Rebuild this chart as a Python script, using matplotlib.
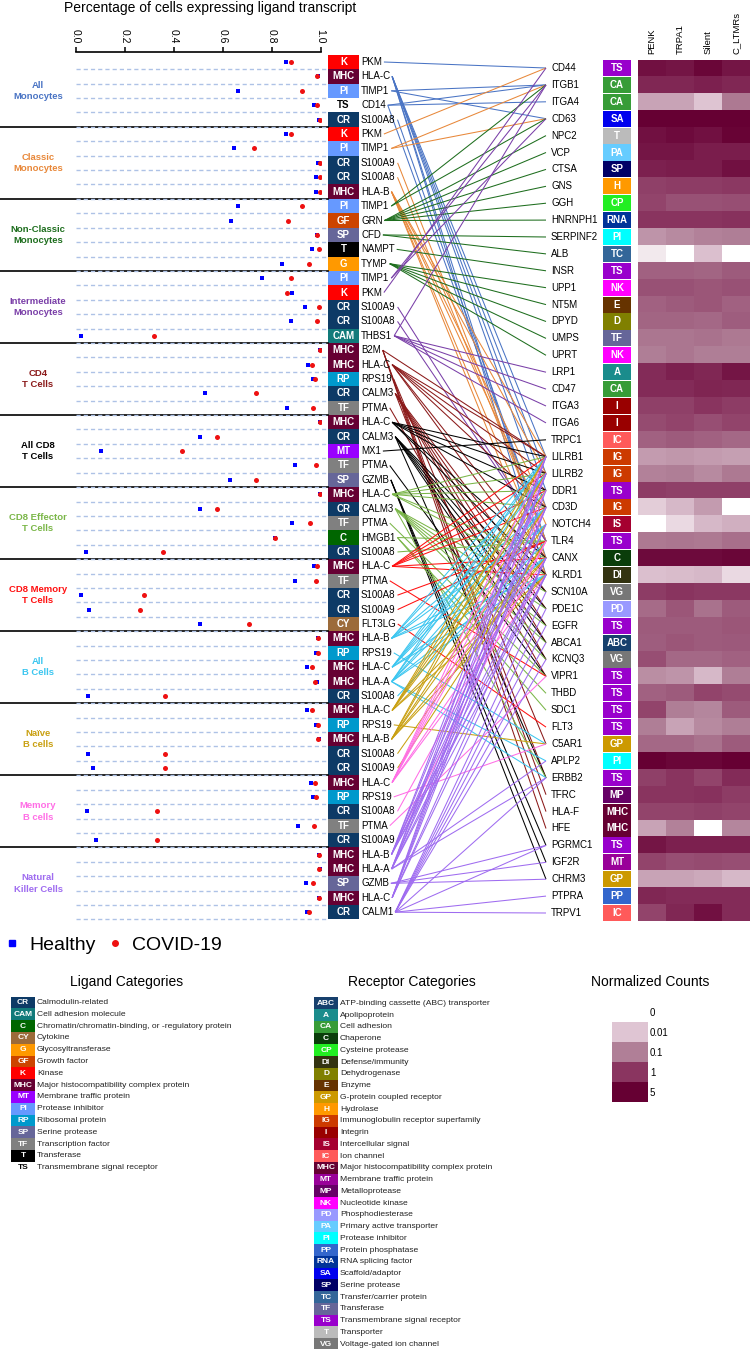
import matplotlib
matplotlib.use('Agg')
import matplotlib.pyplot as plt
import numpy as np
from matplotlib.colors import LinearSegmentedColormap, LogNorm
from matplotlib.patches import Rectangle
from matplotlib.lines import Line2D

plt.rcParams['font.family'] = ['Liberation Sans', 'DejaVu Sans']

# ---------------- data ----------------
groups = ['All\nMonocytes', 'Classic\nMonocytes', 'Non-Classic\nMonocytes', 'Intermediate\nMonocytes',
          'CD4\nT Cells', 'All CD8\nT Cells', 'CD8 Effector\nT Cells', 'CD8 Memory\nT Cells',
          'All\nB Cells', 'Naïve\nB cells', 'Memory\nB cells', 'Natural\nKiller Cells']
group_colors = ['#4a74c4', '#e8883a', '#1e6e1e', '#7a3fa8', '#8b1a1a', '#000000',
                '#7ab648', '#ff1010', '#3cc6f0', '#c9a012', '#ff6ee6', '#9f6cf0']

lig_genes = ['PKM', 'HLA-C', 'TIMP1', 'CD14', 'S100A8',
             'PKM', 'TIMP1', 'S100A9', 'S100A8', 'HLA-B',
             'TIMP1', 'GRN', 'CFD', 'NAMPT', 'TYMP',
             'TIMP1', 'PKM', 'S100A9', 'S100A8', 'THBS1',
             'B2M', 'HLA-C', 'RPS19', 'CALM3', 'PTMA',
             'HLA-C', 'CALM3', 'MX1', 'PTMA', 'GZMB',
             'HLA-C', 'CALM3', 'PTMA', 'HMGB1', 'S100A8',
             'HLA-C', 'PTMA', 'S100A8', 'S100A9', 'FLT3LG',
             'HLA-B', 'RPS19', 'HLA-C', 'HLA-A', 'S100A8',
             'HLA-C', 'RPS19', 'HLA-B', 'S100A8', 'S100A9',
             'HLA-C', 'RPS19', 'S100A8', 'PTMA', 'S100A9',
             'HLA-B', 'HLA-A', 'GZMB', 'HLA-C', 'CALM1']
lig_cats = ['K', 'MHC', 'PI', 'TS', 'CR',
            'K', 'PI', 'CR', 'CR', 'MHC',
            'PI', 'GF', 'SP', 'T', 'G',
            'PI', 'K', 'CR', 'CR', 'CAM',
            'MHC', 'MHC', 'RP', 'CR', 'TF',
            'MHC', 'CR', 'MT', 'TF', 'SP',
            'MHC', 'CR', 'TF', 'C', 'CR',
            'MHC', 'TF', 'CR', 'CR', 'CY',
            'MHC', 'RP', 'MHC', 'MHC', 'CR',
            'MHC', 'RP', 'MHC', 'CR', 'CR',
            'MHC', 'RP', 'CR', 'TF', 'CR',
            'MHC', 'MHC', 'SP', 'MHC', 'CR']

healthy = [0.858, 0.99, 0.663, 0.973, 0.995,
           0.858, 0.647, 0.99, 0.979, 0.979,
           0.663, 0.635, 0.983, 0.964, 0.842,
           0.760, 0.883, 0.937, 0.880, 0.020,
           0.997, 0.949, 0.970, 0.528, 0.864,
           0.998, 0.507, 0.103, 0.895, 0.631,
           0.997, 0.507, 0.884, 0.813, 0.041,
           0.973, 0.895, 0.020, 0.052, 0.507,
           0.987, 0.981, 0.944, 0.985, 0.049,
           0.944, 0.981, 0.995, 0.049, 0.068,
           0.962, 0.967, 0.044, 0.909, 0.080,
           0.993, 0.999, 0.940, 0.995, 0.942]
covid = [0.879, 0.985, 0.923, 0.983, 0.998,
         0.879, 0.729, 0.997, 0.997, 0.997,
         0.925, 0.865, 0.985, 0.994, 0.954,
         0.877, 0.861, 0.992, 0.986, 0.318,
         0.997, 0.964, 0.977, 0.736, 0.967,
         0.997, 0.578, 0.435, 0.981, 0.737,
         0.997, 0.578, 0.956, 0.813, 0.354,
         0.986, 0.979, 0.277, 0.262, 0.707,
         0.991, 0.987, 0.963, 0.975, 0.365,
         0.963, 0.988, 0.990, 0.365, 0.364,
         0.975, 0.981, 0.332, 0.971, 0.331,
         0.993, 0.993, 0.970, 0.995, 0.954]

HC = ['LILRB1', 'LILRB2', 'DDR1', 'CD3D', 'CANX', 'KLRD1']
HB = ['LILRB1', 'LILRB2', 'CD3D', 'NOTCH4', 'CANX', 'KLRD1']
HA = ['LILRB1', 'LILRB2', 'CD3D', 'NOTCH4', 'CANX', 'KLRD1', 'APLP2', 'ERBB2']
CAL3 = ['SCN10A', 'PDE1C', 'EGFR', 'ABCA1', 'KCNQ3', 'ERBB2']
lig_targets = [['CD44'], HC, ['ITGB1', 'CD63'], ['ITGB1', 'ITGA4', 'TLR4'], ['TLR4'],
               ['CD44'], ['ITGB1', 'CD63'], ['TLR4'], ['TLR4'], HB,
               ['ITGB1', 'CD63'], ['NPC2', 'VCP', 'CTSA', 'GNS', 'GGH', 'HNRNPH1'], ['SERPINF2', 'ALB'],
               ['INSR'], ['UPP1', 'NT5M', 'DPYD', 'UMPS', 'UPRT'],
               ['ITGB1', 'CD63'], ['CD44'], ['TLR4'], ['TLR4'], ['ITGB1', 'LRP1', 'CD47', 'ITGA3', 'ITGA6'],
               ['LILRB1', 'TFRC', 'HLA-F', 'HFE'], HC, ['C5AR1'], CAL3, ['VIPR1'],
               HC, CAL3, ['TRPC1'], ['VIPR1'], ['PGRMC1', 'IGF2R', 'CHRM3'],
               HC, CAL3, ['VIPR1'], ['TLR4', 'THBD', 'SDC1'], ['TLR4'],
               HC, ['VIPR1'], ['TLR4'], ['TLR4'], ['FLT3'],
               HB, ['C5AR1'], HC, HA, ['TLR4'],
               HC, ['C5AR1'], HB, ['TLR4'], ['TLR4'],
               HC, ['C5AR1'], ['TLR4'], ['VIPR1'], ['TLR4'],
               HB, HA, ['PGRMC1', 'IGF2R', 'CHRM3'], HC,
               ['SCN10A', 'PDE1C', 'EGFR', 'ABCA1', 'KCNQ3', 'ERBB2', 'PGRMC1', 'PTPRA', 'TRPV1']]

receptors = ['CD44', 'ITGB1', 'ITGA4', 'CD63', 'NPC2', 'VCP', 'CTSA', 'GNS', 'GGH', 'HNRNPH1',
             'SERPINF2', 'ALB', 'INSR', 'UPP1', 'NT5M', 'DPYD', 'UMPS', 'UPRT', 'LRP1', 'CD47',
             'ITGA3', 'ITGA6', 'TRPC1', 'LILRB1', 'LILRB2', 'DDR1', 'CD3D', 'NOTCH4', 'TLR4', 'CANX',
             'KLRD1', 'SCN10A', 'PDE1C', 'EGFR', 'ABCA1', 'KCNQ3', 'VIPR1', 'THBD', 'SDC1', 'FLT3',
             'C5AR1', 'APLP2', 'ERBB2', 'TFRC', 'HLA-F', 'HFE', 'PGRMC1', 'IGF2R', 'CHRM3', 'PTPRA', 'TRPV1']
rec_cats = ['TS', 'CA', 'CA', 'SA', 'T', 'PA', 'SP', 'H', 'CP', 'RNA',
            'PI', 'TC', 'TS', 'NK', 'E', 'D', 'TF', 'NK', 'A', 'CA',
            'I', 'I', 'IC', 'IG', 'IG', 'TS', 'IG', 'IS', 'TS', 'C',
            'DI', 'VG', 'PD', 'TS', 'ABC', 'VG', 'TS', 'TS', 'TS', 'TS',
            'GP', 'PI', 'TS', 'MP', 'MHC', 'MHC', 'TS', 'MT', 'GP', 'PP', 'IC']

heat_cols = ['PENK', 'TRPA1', 'Silent', 'C_LTMRs']
heat_vals = [[3, 2.5, 4, 2.5], [1.5, 1.5, 1.8, 1.5], [0.03, 0.03, 0.01, 0.12], [5, 5, 5, 5],
             [3, 3.5, 3, 4.5], [2.5, 2.5, 2, 2], [1.8, 2, 2, 3], [0.7, 0.8, 0.8, 0.9],
             [0.6, 0.4, 0.4, 0.45], [1, 1, 1, 1.1], [0.05, 0.07, 0.09, 0.1], [0.002, 0, 0.012, 0],
             [0.25, 0.25, 0.22, 0.3], [0.4, 0.4, 0.35, 0.4], [0.25, 0.3, 0.35, 0.25], [0.22, 0.22, 0.2, 0.28],
             [0.13, 0.13, 0.15, 0.12], [0.1, 0.13, 0.1, 0.1], [1.3, 1.8, 1.5, 2.5], [1.3, 1.3, 1.6, 1.5],
             [0.7, 0.7, 1.0, 0.8], [0.5, 0.6, 0.45, 0.6], [0.25, 0.3, 0.25, 0.2], [0.04, 0.045, 0.04, 0.035],
             [0.09, 0.1, 0.07, 0.12], [0.8, 0.7, 0.7, 0.7], [0.007, 0.015, 0.04, 0], [0, 0.004, 0.015, 0.02],
             [0.12, 0.13, 0.12, 0.16], [3.5, 3.5, 3.5, 4], [0.012, 0.013, 0.015, 0.004], [0.8, 1, 0.9, 0.9],
             [0.18, 0.35, 0.15, 0.3], [0.3, 0.3, 0.3, 0.35], [0.28, 0.35, 0.3, 0.32], [0.45, 0.2, 0.2, 0.25],
             [0.06, 0.05, 0.015, 0.1], [0.25, 0.3, 0.6, 0.5], [0.6, 0.1, 0.08, 0.3], [0.1, 0.03, 0.07, 0.1],
             [0.2, 0.2, 0.15, 0.3], [5, 4, 4, 5], [0.7, 1, 0.6, 1.3], [1, 1, 1.1, 0.8],
             [0.6, 0.6, 0.7, 0.6], [0.03, 0.09, 0, 0.08], [2.5, 1.8, 1.8, 1.8], [0.6, 0.45, 0.5, 0.45],
             [0.03, 0.03, 0.025, 0.015], [1.5, 1.3, 1.3, 1.3], [0.6, 1.5, 3, 1.3]]

lig_legend_codes = ['CR', 'CAM', 'C', 'CY', 'G', 'GF', 'K', 'MHC', 'MT', 'PI', 'RP', 'SP', 'TF', 'T', 'TS']
lig_legend_names = ['Calmodulin-related', 'Cell adhesion molecule',
                    'Chromatin/chromatin-binding, or -regulatory protein', 'Cytokine', 'Glycosyltransferase',
                    'Growth factor', 'Kinase', 'Major histocompatibility complex protein',
                    'Membrane traffic protein', 'Protease inhibitor', 'Ribosomal protein', 'Serine protease',
                    'Transcription factor', 'Transferase', 'Transmembrane signal receptor']
lig_colors = {'CR': '#0d3a66', 'CAM': '#117a7a', 'C': '#006600', 'CY': '#9c6b3a', 'G': '#ff9900',
              'GF': '#cc4400', 'K': '#ff0000', 'MHC': '#660033', 'MT': '#9900ff', 'PI': '#6699ff',
              'RP': '#0099cc', 'SP': '#666699', 'TF': '#808080', 'T': '#000000', 'TS': None}

rec_legend_codes = ['ABC', 'A', 'CA', 'C', 'CP', 'DI', 'D', 'E', 'GP', 'H', 'IG', 'I', 'IS', 'IC', 'MHC',
                    'MT', 'MP', 'NK', 'PD', 'PA', 'PI', 'PP', 'RNA', 'SA', 'SP', 'TC', 'TF', 'TS', 'T', 'VG']
rec_legend_names = ['ATP-binding cassette (ABC) transporter', 'Apolipoprotein', 'Cell adhesion', 'Chaperone',
                    'Cysteine protease', 'Defense/immunity', 'Dehydrogenase', 'Enzyme',
                    'G-protein coupled receptor', 'Hydrolase', 'Immunoglobulin receptor superfamily',
                    'Integrin', 'Intercellular signal', 'Ion channel', 'Major histocompatibility complex protein',
                    'Membrane traffic protein', 'Metalloprotease', 'Nucleotide kinase', 'Phosphodiesterase',
                    'Primary active transporter', 'Protease inhibitor', 'Protein phosphatase',
                    'RNA splicing factor', 'Scaffold/adaptor', 'Serine protease', 'Transfer/carrier protein',
                    'Transferase', 'Transmembrane signal receptor', 'Transporter', 'Voltage-gated ion channel']
rec_colors = {'ABC': '#17406d', 'A': '#1a8c8c', 'CA': '#379c37', 'C': '#0a3d0a', 'CP': '#22ee22',
              'DI': '#333311', 'D': '#808000', 'E': '#663300', 'GP': '#cc9900', 'H': '#ff9900',
              'IG': '#cc3a00', 'I': '#990000', 'IS': '#a50030', 'IC': '#ff5a5a', 'MHC': '#660033',
              'MT': '#990099', 'MP': '#660066', 'NK': '#ff00ff', 'PD': '#9999ff', 'PA': '#66ccff',
              'PI': '#00ffff', 'PP': '#3366cc', 'RNA': '#003399', 'SA': '#0000ee', 'SP': '#000066',
              'TC': '#336699', 'TF': '#666699', 'TS': '#9900cc', 'T': '#bbbbbb', 'VG': '#777777'}

count_levels = [0, 0.01, 0.1, 1, 5]

# ---------------- layout (pixels) ----------------
W, H = 750, 1349
lig_top, lig_step = 62.0, 14.41
rec_top, rec_step = 68.0, 16.9
n_lig, n_rec = len(lig_genes), len(receptors)

def lig_y(i):
    return lig_top + i * lig_step

def rec_y(j):
    return rec_top + j * rec_step

fig = plt.figure(figsize=(W / 100, H / 100), dpi=100)
ax = fig.add_axes([0, 0, 1, 1])
ax.set_xlim(0, W)
ax.set_ylim(H, 0)
ax.axis('off')

# ---- dot plot ----
x0, x1 = 76.0, 320.7
ytop = 52.0
ybot = lig_y(n_lig - 1) + lig_step / 2
dax = fig.add_axes([x0 / W, 1 - ybot / H, (x1 - x0) / W, (ybot - ytop) / H])
dax.set_xlim(0, 1)
dax.set_ylim(n_lig - 0.5, (ytop - lig_top) / lig_step)
dax.patch.set_alpha(0)
rows = np.arange(n_lig)
for r in rows:
    dax.plot([0, 1.02], [r + 0.5, r + 0.5], color='#aec2e6', lw=1.0, dashes=(3, 2.2), clip_on=False)
dax.scatter(healthy, rows, marker='s', s=12, color='#0000ff', zorder=3, linewidths=0)
dax.scatter(covid, rows, marker='o', s=13, color='#ee1111', zorder=4, linewidths=0)
dax.xaxis.tick_top()
dax.set_xticks([0, 0.2, 0.4, 0.6, 0.8, 1.0])
dax.set_xticklabels(['0.0', '0.2', '0.4', '0.6', '0.8', '1.0'], rotation=-90, fontsize=7.5)
dax.tick_params(axis='x', length=3.5, width=1.1, pad=2.5)
dax.set_yticks([])
for s in ['bottom', 'left', 'right']:
    dax.spines[s].set_visible(False)
dax.spines['top'].set_linewidth(1.2)
ax.text(210, 8, 'Percentage of cells expressing ligand transcript', ha='center', va='center', fontsize=10)

# group labels and separators
for g, name in enumerate(groups):
    yc = (lig_y(g * 5) + lig_y(g * 5 + 4)) / 2
    ax.text(38, yc, name, ha='center', va='center', color=group_colors[g], fontsize=6.8,
            fontweight='bold', linespacing=1.35)
    if g > 0:
        ys = lig_y(g * 5) - lig_step / 2
        ax.plot([0, 328], [ys, ys], color='black', lw=1.2)

# ligand boxes and names
lig_text = []
for i, (gene, cat) in enumerate(zip(lig_genes, lig_cats)):
    y = lig_y(i)
    if lig_colors[cat] is not None:
        ax.add_patch(Rectangle((328, y - lig_step / 2), 31, lig_step, facecolor=lig_colors[cat], edgecolor='none'))
        ax.text(343.5, y, cat, ha='center', va='center', color='white', fontsize=7, fontweight='bold')
    else:
        ax.text(343.5, y, cat, ha='center', va='center', color='black', fontsize=7, fontweight='bold')
    lig_text.append(ax.text(361, y, gene, ha='left', va='center', fontsize=7))

# receptor names, boxes
for j, (gene, cat) in enumerate(zip(receptors, rec_cats)):
    y = rec_y(j)
    ax.text(551, y, gene, ha='left', va='center', fontsize=7)
    ax.add_patch(Rectangle((603, y - rec_step / 2 + 0.4), 28, rec_step - 0.8, facecolor=rec_colors[cat], edgecolor='none'))
    ax.text(617, y, cat, ha='center', va='center', color='white', fontsize=7, fontweight='bold')

# connections
fig.canvas.draw()
renderer = fig.canvas.get_renderer()
inv = ax.transData.inverted()
g_of_row = [i // 5 for i in range(n_lig)]
for i, targets in enumerate(lig_targets):
    bb = lig_text[i].get_window_extent(renderer)
    xs = inv.transform((bb.x1, 0))[0] + 2
    for t in targets:
        j = receptors.index(t)
        ax.plot([xs, 546], [lig_y(i), rec_y(j)], color=group_colors[g_of_row[i]], lw=0.75, solid_capstyle='butt')

# ---- heatmap ----
cmap = LinearSegmentedColormap.from_list('nc', [(0, '#fbf8f9'), (0.27, '#dfc5d3'), (0.541, '#b07f97'),
                                                (0.811, '#8a3560'), (1, '#660033')])
cmap.set_bad('white')
cmap.set_under('white')
norm = LogNorm(vmin=0.001, vmax=5)
hy0 = rec_y(0) - rec_step / 2
hy1 = rec_y(n_rec - 1) + rec_step / 2
hax = fig.add_axes([638 / W, 1 - hy1 / H, 112 / W, (hy1 - hy0) / H])
hv = np.ma.masked_less_equal(np.array(heat_vals, dtype=float), 0)
hax.imshow(hv, cmap=cmap, norm=norm, aspect='auto', interpolation='nearest')
hax.xaxis.tick_top()
hax.set_xticks(range(len(heat_cols)))
hax.set_xticklabels(heat_cols, rotation=90, fontsize=6.8)
hax.tick_params(length=0, pad=4)
hax.set_yticks([])
for s in hax.spines.values():
    s.set_visible(False)

# ---- healthy / covid legend ----
handles = [Line2D([], [], marker='s', color='#0000ff', ls='none', markersize=4),
           Line2D([], [], marker='o', color='#ee1111', ls='none', markersize=4)]
fig.legend(handles, ['Healthy', 'COVID-19'], loc='center left', bbox_to_anchor=(0.0, 1 - 945 / H),
           ncol=2, frameon=False, fontsize=14, handlelength=0.8, handletextpad=0.5, columnspacing=0.6,
           borderaxespad=0, borderpad=0.2)

# ---- category legends ----
leg_step = 11.8
ax.text(127, 982, 'Ligand Categories', ha='center', va='center', fontsize=10)
for k, (code, name) in enumerate(zip(lig_legend_codes, lig_legend_names)):
    y = 1002.5 + k * leg_step
    col = lig_colors[code]
    if col is not None:
        ax.add_patch(Rectangle((11, y - leg_step / 2), 24, leg_step, facecolor=col, edgecolor='none'))
        ax.text(23, y, code, ha='center', va='center', color='white', fontsize=6, fontweight='bold')
    else:
        ax.text(23, y, code, ha='center', va='center', color='black', fontsize=6, fontweight='bold')
    ax.text(37, y, name, ha='left', va='center', fontsize=6.1, color='#222222')

ax.text(412, 982, 'Receptor Categories', ha='center', va='center', fontsize=10)
for k, (code, name) in enumerate(zip(rec_legend_codes, rec_legend_names)):
    y = 1003.3 + k * 11.75
    ax.add_patch(Rectangle((314, y - 11.75 / 2), 24, 11.75, facecolor=rec_colors[code], edgecolor='none'))
    ax.text(326, y, code, ha='center', va='center', color='white', fontsize=6, fontweight='bold')
    ax.text(340, y, name, ha='left', va='center', fontsize=6.1, color='#222222')

ax.text(650, 982, 'Normalized Counts', ha='center', va='center', fontsize=10)
for k, lv in enumerate(count_levels):
    y = 1011.7 + k * 20
    col = cmap(norm(lv)) if lv > 0 else (1, 1, 1, 1)
    ax.add_patch(Rectangle((612, y - 10), 36, 20, facecolor=col, edgecolor='none'))
    ax.text(650, y + 1, f'{lv:g}', ha='left', va='center', fontsize=7)

fig.savefig('out.png', dpi=100)
